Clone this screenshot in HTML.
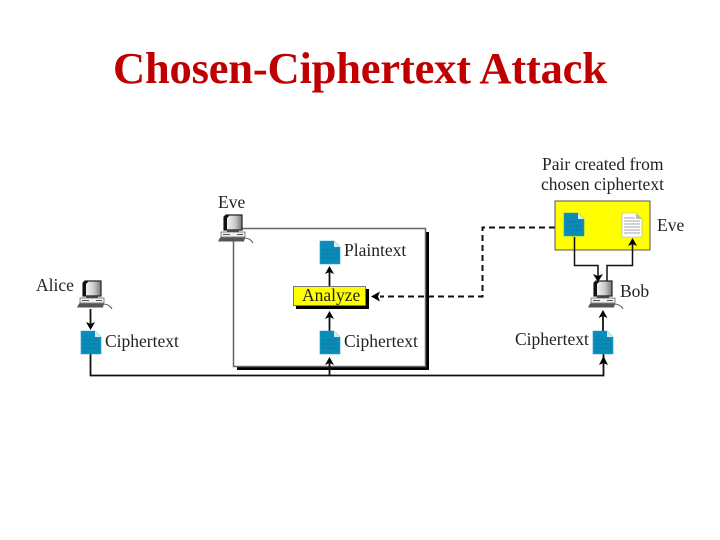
<!DOCTYPE html>
<html><head><meta charset="utf-8"><style>
html,body{margin:0;padding:0;background:#fff;width:720px;height:540px;overflow:hidden}
svg{display:block}
text{font-family:"Liberation Serif",serif}
</style></head><body>
<svg width="720" height="540" viewBox="0 0 720 540" xmlns="http://www.w3.org/2000/svg">
<defs>
<linearGradient id="scr" x1="0" x2="1" y1="0" y2="0"><stop offset="0" stop-color="#fff"/><stop offset=".6" stop-color="#ccc"/><stop offset="1" stop-color="#777"/></linearGradient>
<g id="pc">
<path d="M226 215H242V230H224V217Z" fill="url(#scr)" stroke="#222" stroke-width="1.200"/>
<path d="M226 215L224 217V230H227V218L229 216V215Z" fill="#111"/>
<rect x="227" y="230" width="12" height="2" fill="#444"/>
<rect x="221" y="232" width="24" height="5" fill="#f2f2f2" stroke="#555" stroke-width=".7"/>
<path d="M223 234.500h7M237 234.500h6" stroke="#555" stroke-width="1"/>
<path d="M220 237.500h25l-1 4h-26z" fill="#555"/>
<path d="M244 238c4 0 7 1 9 5" fill="none" stroke="#555" stroke-width="1"/>
</g>
<g id="docb">
<path d="M0 0H14L20 6V23H0Z" fill="#0b8cb8" stroke="#1a9fc8" stroke-width=".6"/>
<path d="M14 0L20 6H14Z" fill="#d7eef6"/>
<path d="M2 9H18M2 13H18M2 17H18" stroke="#086a8c" stroke-width=".6"/>
</g>
<g id="docw">
<path d="M0 0H14L20 6V24H0Z" fill="#fff" stroke="#aaa" stroke-width=".6"/>
<path d="M14 0L20 6H14Z" fill="#bbb"/>
<path d="M2 5H13M2 8H18M2 11H18M2 14H18M2 17H18M2 20H18" stroke="#888" stroke-width=".7"/>
</g>
</defs>

<text x="113" y="83" font-size="44.500" font-weight="bold" fill="#c00000" textLength="494" lengthAdjust="spacing">Chosen-Ciphertext Attack</text>

<!-- Eve's box -->
<rect x="237" y="232" width="192" height="138" fill="#000"/>
<rect x="233.500" y="228.500" width="192" height="138" fill="#fff" stroke="#666" stroke-width="1.500"/>

<!-- Main line -->
<path d="M90.500 354V375.500H603.500V345" fill="none" stroke="#111" stroke-width="1.800"/>
<path d="M329.500 375.500V362" fill="none" stroke="#111" stroke-width="1.800"/>
<path d="M325 365L329.500 357L334 365L329.500 363Z" fill="#000"/>
<path d="M599 365L603.500 356L608 365L603.500 363Z" fill="#000"/>

<!-- Internal arrows -->
<path d="M329.500 331V317M329.500 286V272" stroke="#111" stroke-width="1.800" fill="none"/>
<path d="M325 319L329.500 311L334 319L329.500 317Z" fill="#000"/>
<path d="M325 274L329.500 266L334 274L329.500 272Z" fill="#000"/>

<!-- Analyze -->
<rect x="296" y="289" width="73" height="20" fill="#000"/>
<rect x="293.500" y="286.500" width="72" height="19" fill="#ffff00" stroke="#777" stroke-width="1"/>
<text x="302" y="301" font-size="17.500" fill="#222">Analyze</text>

<!-- Dashed -->
<path d="M555 227.500H482.500V296.500H380" fill="none" stroke="#111" stroke-width="2" stroke-dasharray="6 4"/>
<path d="M371 296.500L380 291.500L378 296.500L380 301.500Z" fill="#000"/>

<!-- Yellow box -->
<rect x="555" y="201" width="95" height="49" fill="#ffff00" stroke="#555" stroke-width="1"/>

<!-- Bob's links -->
<path d="M574.500 237V265.500H598V276" fill="none" stroke="#111" stroke-width="1.500"/>
<path d="M593 274L598 282L603 274L598 276Z" fill="#000"/>
<path d="M607 282V265.500H632.500V243" fill="none" stroke="#111" stroke-width="1.500"/>
<path d="M628 246L632.500 238L637 246L632.500 244Z" fill="#000"/>

<!-- Bob to cipher -->
<path d="M603 331V316" stroke="#111" stroke-width="1.800"/>
<path d="M598.500 318L603 310L607.500 318L603 316Z" fill="#000"/>
<!-- Alice arrow -->
<path d="M90.500 309V325" stroke="#111" stroke-width="1.800"/>
<path d="M86 322L90.500 330L95 322L90.500 324Z" fill="#000"/>

<!-- Computers -->
<use href="#pc"/>
<use href="#pc" x="-141" y="66"/>
<use href="#pc" x="370" y="66"/>

<!-- Docs -->
<use href="#docb" x="320" y="241"/>
<use href="#docb" x="320" y="331"/>
<use href="#docb" x="81" y="331"/>
<use href="#docb" x="593" y="331"/>
<use href="#docb" x="564" y="213"/>
<use href="#docw" x="622" y="213"/>

<!-- Labels -->
<g font-size="17.500" fill="#222">
<text x="218" y="208">Eve</text>
<text x="36" y="291">Alice</text>
<text x="344" y="256">Plaintext</text>
<text x="344" y="347">Ciphertext</text>
<text x="105" y="347">Ciphertext</text>
<text x="515" y="345">Ciphertext</text>
<text x="620" y="297">Bob</text>
<text x="657" y="231">Eve</text>
<text x="542" y="170">Pair created from</text>
<text x="541" y="190">chosen ciphertext</text>
</g>
</svg>
</body></html>
